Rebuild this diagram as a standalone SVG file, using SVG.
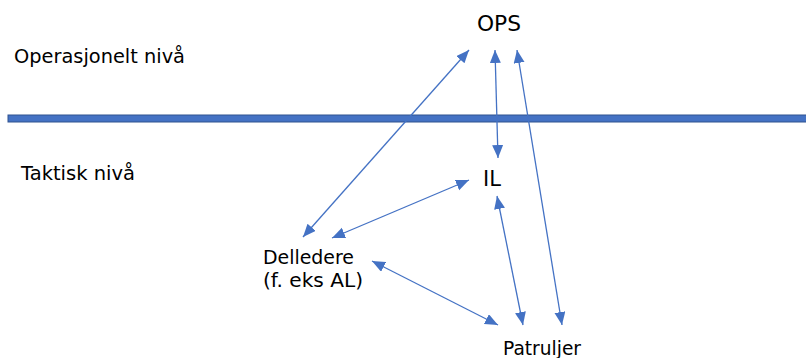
<svg xmlns="http://www.w3.org/2000/svg" width="806" height="358" viewBox="0 0 806 358">
<style>
.t{font-family:"DejaVu Sans","Verdana",sans-serif;fill:#000}
.c{stroke:#4472C4;stroke-width:1.3;fill:none;marker-start:url(#ah);marker-end:url(#ah)}
</style>
<defs>
<marker id="ah" markerUnits="userSpaceOnUse" markerWidth="14" markerHeight="12" refX="13" refY="5.5" orient="auto-start-reverse" viewBox="0 0 14 12">
<path d="M0,0 L13,5.5 L0,11 z" fill="#4472C4"/>
</marker>
</defs>
<rect width="806" height="358" fill="#fff"/>
<g id="bar"><rect x="8" y="115" width="800" height="7" fill="#4472C4" stroke="#2F528F" stroke-width="1"/></g>
<g id="lvl-op"><text class="t" x="14" y="63" font-size="19.5" textLength="171" lengthAdjust="spacingAndGlyphs">Operasjonelt nivå</text></g>
<g id="lvl-tak"><text class="t" x="21" y="180" font-size="19.5" textLength="114" lengthAdjust="spacingAndGlyphs">Taktisk nivå</text></g>
<g id="ops"><text class="t" x="477" y="31" font-size="21.5" textLength="44" lengthAdjust="spacingAndGlyphs">OPS</text></g>
<g id="il"><text class="t" x="483" y="186" font-size="21">IL</text></g>
<g id="delledere"><text class="t" x="263" y="264" font-size="19" textLength="91" lengthAdjust="spacingAndGlyphs">Delledere</text><text class="t" x="263" y="287" font-size="19" textLength="100" lengthAdjust="spacingAndGlyphs">(f. eks AL)</text></g>
<g id="patruljer"><text class="t" x="503" y="355" font-size="19" textLength="78" lengthAdjust="spacingAndGlyphs">Patruljer</text></g>
<g id="connectors">
<line class="c" x1="469" y1="50" x2="303" y2="237"/>
<line class="c" x1="495" y1="50" x2="498" y2="158"/>
<line class="c" x1="517" y1="50" x2="562" y2="325"/>
<line class="c" x1="469" y1="180" x2="332" y2="238"/>
<line class="c" x1="497" y1="196" x2="523" y2="325"/>
<line class="c" x1="372" y1="261" x2="498" y2="325"/>
</g>
</svg>
